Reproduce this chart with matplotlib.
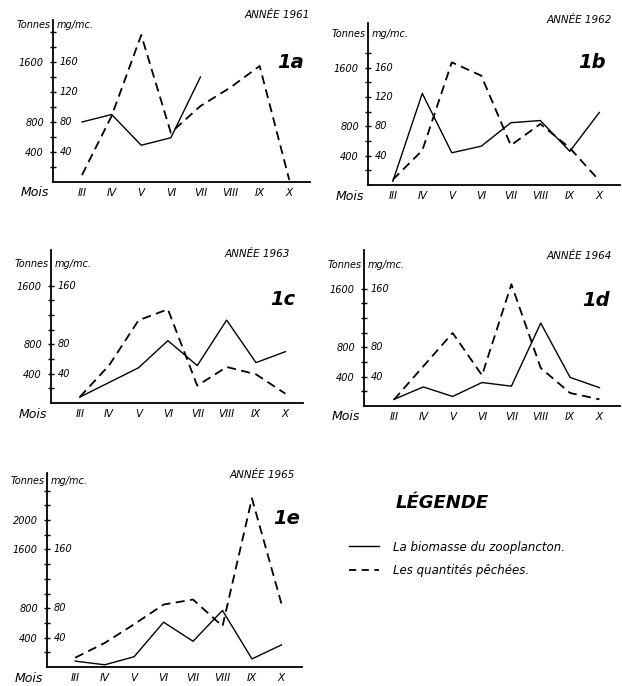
import numpy as np
import matplotlib
matplotlib.use("Agg")
import matplotlib.pyplot as plt
from matplotlib.transforms import blended_transform_factory, offset_copy
from matplotlib.lines import Line2D

plt.rcParams['font.family'] = ['DejaVu Sans']
plt.rcParams['font.style'] = 'italic'

W, H = 622, 686

months = ['III', 'IV', 'V', 'VI', 'VII', 'VIII', 'IX', 'X']

# biomass of zooplankton (mg/mc) and catches (tonnes)
bio_1961 = [80, 90, 49, 59, 140, np.nan, np.nan, np.nan]
catch_1961 = [93, 880, 1960, 657, 1013, 1257, 1547, 27]
bio_1962 = [5, 125, 44, 53, 85, 88, 46, 99]
catch_1962 = [72, 472, 1674, 1492, 541, 833, 505, 59]
bio_1963 = [8, 28, 48, 85, 51, 113, 55, 70]
catch_1963 = [82, 514, 1127, 1277, 236, 491, 391, 127]
bio_1964 = [9, 26, 13, 32, 27, 113, 39, 25]
catch_1964 = [86, 541, 995, 418, 1659, 518, 177, 91]
bio_1965 = [8, 3, 14, 61, 35, 77, 11, 30]
catch_1965 = [127, 327, 582, 850, 918, 555, 2295, 864]

years = ['1961', '1962', '1963', '1964', '1965']
tags = ['1a', '1b', '1c', '1d', '1e']
bios = [bio_1961, bio_1962, bio_1963, bio_1964, bio_1965]
catches = [catch_1961, catch_1962, catch_1963, catch_1964, catch_1965]
tonne_labels = [[400, 800, 1600], [400, 800, 1600], [400, 800, 1600],
                [400, 800, 1600], [400, 800, 1600, 2000]]
mg_labels = [[40, 80, 120, 160], [40, 80, 120, 160], [40, 80, 160],
             [40, 80, 160], [40, 80, 160]]
top_tick = [2000, 1800, 1600, 1600, 2400]

# layout in pixels: left, top, right, bottom of the axes box
layout = [
    dict(box=(53, 20, 310, 182), xl=(-0.98, 7.7), ymax=2160, unit_y=25, year=(310, 15), tag=(291, 62)),
    dict(box=(368, 23, 620, 185), xl=(-0.84, 7.7), ymax=2211, unit_y=34, year=(612, 20), tag=(592, 63)),
    dict(box=(51, 250, 303, 403), xl=(-0.98, 7.6), ymax=2085, unit_y=264, year=(290, 254), tag=(283, 299)),
    dict(box=(364, 250, 620, 406), xl=(-1.02, 7.7), ymax=2126, unit_y=265, year=(612, 256), tag=(596, 301)),
    dict(box=(47, 473, 302, 667), xl=(-0.96, 7.7), ymax=2640, unit_y=481, year=(295, 475), tag=(287, 519)),
]


def fx(x):
    return x / W


def fy(y):
    return 1 - y / H


fig = plt.figure(figsize=(W / 100, H / 100), dpi=100)
fig.patch.set_facecolor('white')

x = np.arange(len(months))
for i in range(5):
    L = layout[i]
    l, t, r, b = L['box']
    ax = fig.add_axes([fx(l), fy(b), fx(r) - fx(l), fy(t) - fy(b)])
    ax.set_xlim(*L['xl'])
    ax.set_ylim(0, L['ymax'])
    ax.patch.set_alpha(0)
    for s in ['top', 'right']:
        ax.spines[s].set_visible(False)
    ax.spines['left'].set_linewidth(1.3)
    ax.spines['bottom'].set_linewidth(1.3)

    ax.plot(x, catches[i], color='black', lw=1.3, ls=(0, (5, 3)))

    # biomass on mg/mc scale (1 mg/mc = 10 t on the drawing)
    axm = ax.twinx()
    axm.set_ylim(0, L['ymax'] / 10)
    axm.axis('off')
    axm.plot(x, bios[i], color='black', lw=1.0)

    ticks = np.arange(200, top_tick[i] + 1, 200)
    ax.set_yticks(ticks)
    ax.set_yticklabels([str(v) if v in tonne_labels[i] else '' for v in ticks])
    ax.tick_params(axis='y', direction='inout', length=5, width=1, labelsize=7, pad=4)
    ax.set_xticks(x)
    ax.set_xticklabels(months)
    ax.tick_params(axis='x', length=0, labelsize=7.5, pad=4)

    tr = offset_copy(blended_transform_factory(ax.transAxes, ax.transData), fig=fig, x=5, y=0, units='points')
    for m in mg_labels[i]:
        ax.text(0, m * 10, str(m), transform=tr, ha='left', va='center', fontsize=7)

    fig.text(fx(l - 2), fy(L['unit_y']), 'Tonnes', ha='right', va='center', fontsize=7)
    fig.text(fx(l + 4), fy(L['unit_y']), 'mg/mc.', ha='left', va='center', fontsize=7)
    fig.text(fx(l - 4), fy(b + 11), 'Mois', ha='right', va='center', fontsize=9)
    fig.text(fx(L['year'][0]), fy(L['year'][1]), 'ANNÉE ' + years[i], ha='right', va='center', fontsize=7.5)
    fig.text(fx(L['tag'][0]), fy(L['tag'][1]), tags[i], ha='center', va='center', fontsize=14, weight='bold')

# legend
fig.text(fx(442), fy(503), 'LÉGENDE', ha='center', va='center', fontsize=13, weight='bold')
handles = [Line2D([], [], color='black', lw=1.0), Line2D([], [], color='black', lw=1.3, ls=(0, (4, 3)))]
fig.legend(handles, ['La biomasse du zooplancton.', 'Les quantités pêchées.'],
           loc='upper left', bbox_to_anchor=(fx(338), fy(530)), frameon=False,
           fontsize=8.5, handlelength=2.6, labelspacing=0.9, handletextpad=1.2)

fig.savefig('out.png', dpi=100)
